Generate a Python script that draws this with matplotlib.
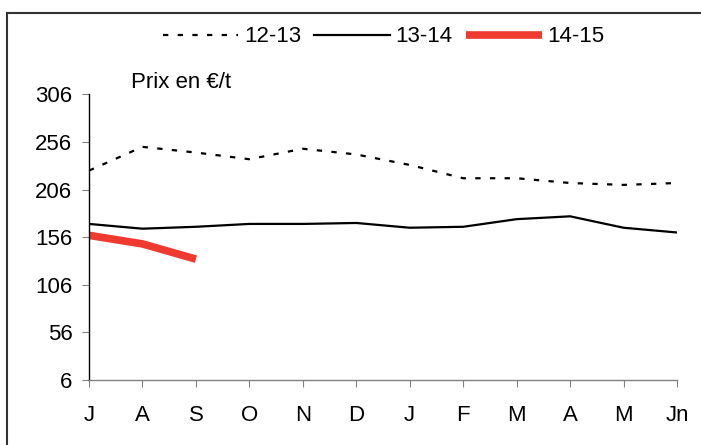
import matplotlib
matplotlib.use("Agg")
import matplotlib.pyplot as plt
from matplotlib.lines import Line2D

plt.rcParams['font.family'] = ['Liberation Sans', 'DejaVu Sans']

months = ["J", "A", "S", "O", "N", "D", "J", "F", "M", "A", "M", "Jn"]
y_ticks = [6, 56, 106, 156, 206, 256, 306]

prix_12_13 = [226, 251, 245, 238, 249, 243, 232, 218, 218, 213, 211, 213]
prix_13_14 = [170, 165, 167, 170, 170, 171, 166, 167, 175, 178, 166, 161]
prix_14_15 = [158, 149, 133]

W, H = 701, 445
FS = 16
fig = plt.figure(figsize=(W / 100, H / 100), dpi=100)
ax = fig.add_axes([89 / W, 1 - 380 / H, (677 - 89) / W, (380 - 94.5) / H])

x = list(range(len(months)))
ax.plot(x, prix_12_13, color="black", lw=1.6, linestyle=(0, (2.4, 4.2)),
        label="12-13", dash_capstyle="butt")
ax.plot(x, prix_13_14, color="black", lw=1.6, label="13-14")
ax.plot(x[:len(prix_14_15)], prix_14_15, color="#EE3A2F", lw=5.5,
        label="14-15", solid_capstyle="butt")

ax.set_xlim(0, len(months) - 1)
ax.set_ylim(y_ticks[0], y_ticks[-1])
ax.set_yticks(y_ticks)
ax.set_xticks(x)
ax.set_xticklabels(months)

for side in ("top", "right"):
    ax.spines[side].set_visible(False)
ax.spines["left"].set_color("black")
ax.spines["left"].set_linewidth(1.0)
ax.spines["bottom"].set_color("#808080")
ax.spines["bottom"].set_linewidth(1.0)

ax.tick_params(axis="y", direction="out", length=5, width=0.8, color="#808080",
               labelsize=FS, pad=7)
ax.tick_params(axis="x", direction="out", length=5, width=0.8, color="#808080",
               labelsize=FS, pad=13)

ax.text(131 / W, 1 - 82 / H, "Prix en €/t", transform=fig.transFigure,
        fontsize=FS, va="center", ha="left")

leg = fig.legend(loc="center", bbox_to_anchor=(383.5 / W, 1 - 37 / H), ncol=3,
                 frameon=False, fontsize=FS, handlelength=3.4,
                 handletextpad=0.25, columnspacing=0.6)

# outer frame: top and left edges
fig.add_artist(Line2D([7 / W, 1.0], [1 - 13 / H, 1 - 13 / H],
                      transform=fig.transFigure, color="#333333", lw=1.5))
fig.add_artist(Line2D([7 / W, 7 / W], [0.0, 1 - 13 / H],
                      transform=fig.transFigure, color="#333333", lw=1.5))

fig.savefig("out.png", dpi=100)
